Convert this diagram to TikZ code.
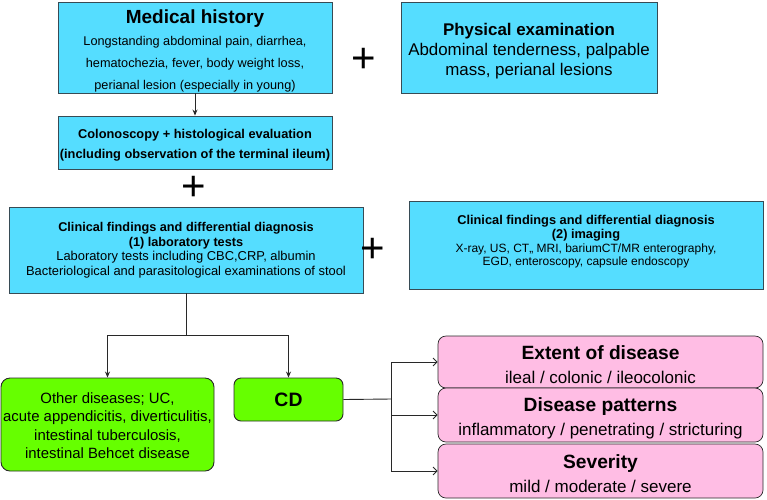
\documentclass[tikz,border=0pt]{standalone}
\usepackage{fontspec}
\setmainfont{Liberation Sans}
\usetikzlibrary{arrows.meta}
\definecolor{cyanbox}{RGB}{85,221,255}
\definecolor{greenbox}{RGB}{102,255,0}
\definecolor{pinkbox}{RGB}{255,189,228}
\definecolor{edge}{RGB}{55,75,85}
\definecolor{lin}{RGB}{40,40,40}
\tikzset{
  bluebox/.style={draw=edge, line width=0.9pt, fill=cyanbox, align=center, inner sep=0pt},
  greenbx/.style={draw=lin, line width=0.9pt, fill=greenbox, align=center, inner sep=0pt, rounded corners=9pt},
  pinkbx/.style={draw=lin, line width=0.7pt, fill=pinkbox, align=center, inner sep=0pt, rounded corners=8pt, font=\fontsize{17}{24}\selectfont},
  plussign/.style={font=\fontsize{42}{42}\selectfont, inner sep=0pt},
  conn/.style={draw=lin, line width=0.9pt},
  darr/.style={conn, -{Stealth[length=6pt,width=5pt]}},
  oarr/.style={conn, -{Straight Barb[length=4pt,width=8pt]}}
}
\begin{document}
\begin{tikzpicture}[x=1pt,y=-1pt]
\useasboundingbox (0,0) rectangle (767,499);
\node[bluebox, minimum width=274pt, minimum height=91pt, font=\fontsize{12.7}{22}\selectfont] (hist) at (195,47.5)
  {\rule{0pt}{20pt}{\fontsize{19}{22}\selectfont\bfseries Medical history}\\
   Longstanding abdominal pain, diarrhea,\\
   hematochezia, fever, body weight loss,\\
   perianal lesion (especially in young)};
\node[bluebox, minimum width=274pt, minimum height=53pt, font=\fontsize{12.8}{20}\selectfont\bfseries] (colo) at (195,142.5)
  {\rule{0pt}{14pt}Colonoscopy + histological evaluation\\
   (including observation of the terminal ileum)};
\node[bluebox, minimum width=256pt, minimum height=91pt, font=\fontsize{16.9}{20}\selectfont] (phys) at (529,47.5)
  {\rule{0pt}{19pt}{\bfseries Physical examination}\\
   Abdominal tenderness, palpable\\
   mass, perianal lesions};
\node[bluebox, minimum width=354pt, minimum height=86pt, font=\fontsize{12.9}{14.5}\selectfont] (lab) at (186,250)
  {{\fontsize{12.7}{14.5}\selectfont\bfseries Clinical findings and differential diagnosis}\\
   {\fontsize{12.7}{14.5}\selectfont\bfseries (1) laboratory tests}\\
   Laboratory tests including CBC,CRP, albumin\\
   Bacteriological and parasitological examinations of stool};
\node[bluebox, minimum width=354pt, minimum height=88pt, font=\fontsize{12}{13.6}\selectfont] (img) at (586,245)
  {{\fontsize{12.8}{13.6}\selectfont\bfseries Clinical findings and differential diagnosis}\\
   {\fontsize{12.8}{13.6}\selectfont\bfseries (2) imaging}\\
   X-ray, US, CT,, MRI, bariumCT/MR enterography,\\
   EGD, enteroscopy, capsule endoscopy\rule[-8.5pt]{0pt}{0pt}};
\node[plussign] (p1) at (364,60) {+};
\node[plussign] (p2) at (194,188) {+};
\node[plussign] (p3) at (373,250) {+};
\node[greenbx, minimum width=213pt, minimum height=93pt, font=\fontsize{14.9}{18.5}\selectfont] (other) at (107.5,424.5)
  {\rule{0pt}{13.5pt}Other diseases; UC,\\
   acute appendicitis, diverticulitis,\\
   intestinal tuberculosis,\\
   intestinal Behcet disease};
\node[greenbx, rounded corners=7pt, minimum width=109pt, minimum height=43pt, font=\fontsize{19.4}{22}\selectfont\bfseries] (cd) at (288.5,399.5)
  {CD};
\node[pinkbx, minimum width=325pt, minimum height=52pt] (ext) at (600.5,362)
  {\rule{0pt}{20pt}{\fontsize{19.2}{24}\selectfont\bfseries Extent of disease}\\
   ileal / colonic / ileocolonic};
\node[pinkbx, minimum width=325pt, minimum height=54pt] (pat) at (600.5,415)
  {\rule{0pt}{20pt}{\fontsize{19.2}{24}\selectfont\bfseries Disease patterns}\\
   inflammatory / penetrating / stricturing};
\node[pinkbx, minimum width=325pt, minimum height=54pt] (sev) at (600.5,471)
  {\rule{0pt}{20pt}{\fontsize{19.2}{24}\selectfont\bfseries Severity}\\
   mild / moderate / severe};
\draw[darr] (hist.south) -- (colo.north);
\coordinate (split) at (186,335);
\coordinate (br) at (391,399);
\draw[conn] (lab.south) -- (split);
\draw[darr] (split) -| (other.north);
\draw[darr] (split) -| (cd.north);
\draw[conn] (cd.east) -- (br);
\draw[oarr] (br) |- (ext.west);
\draw[oarr] (br) |- (pat.west);
\draw[oarr] (br) |- (sev.west);
\end{tikzpicture}
\end{document}
